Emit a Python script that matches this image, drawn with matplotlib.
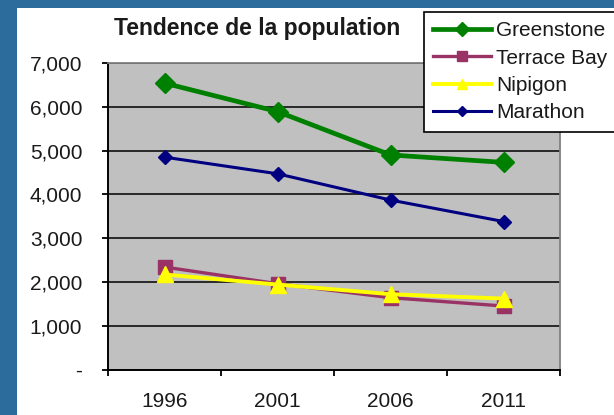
import matplotlib.pyplot as plt
from matplotlib.patches import Rectangle
from matplotlib.ticker import FuncFormatter, FixedLocator

plt.rcParams['font.family'] = ['Liberation Sans', 'DejaVu Sans']

years = ['1996', '2001', '2006', '2011']
greenstone = [6540, 5890, 4900, 4730]
terrace_bay = [2340, 1960, 1640, 1450]
nipigon = [2170, 1940, 1720, 1620]
marathon = [4850, 4470, 3870, 3380]

fig = plt.figure(figsize=(6.14, 4.15), dpi=100)
fig.patch.set_facecolor('#2b6c9c')
fig.patches.append(Rectangle((17 / 614, 0), 1, 1 - 8 / 415, transform=fig.transFigure,
                             facecolor='white', edgecolor='none', zorder=-5))

ax = fig.add_axes([108 / 614, 1 - 369.5 / 415, (560 - 108) / 614, (369.5 - 63) / 415])
ax.set_facecolor('#c0c0c0')

x = range(len(years))
ax.plot(x, greenstone, color='#008000', lw=3.4, marker='D', ms=10, label='Greenstone', zorder=3)
ax.plot(x, terrace_bay, color='#993366', lw=2.4, marker='s', ms=10, label='Terrace Bay', zorder=3)
ax.plot(x, nipigon, color='#ffff00', lw=2.8, marker='^', ms=11, label='Nipigon', zorder=4)
ax.plot(x, marathon, color='#000080', lw=2.2, marker='D', ms=7, label='Marathon', zorder=5)

ax.set_xlim(-0.5, 3.5)
ax.set_ylim(0, 7000)
ax.set_yticks(range(0, 7001, 1000))
ax.yaxis.set_major_formatter(FuncFormatter(lambda v, p: '-' if v == 0 else f'{v:,.0f}'))
ax.set_xticks(list(x))
ax.set_xticklabels(years)
ax.xaxis.set_minor_locator(FixedLocator([-0.5, 0.5, 1.5, 2.5, 3.5]))
ax.tick_params(axis='x', which='major', length=0, pad=16, labelsize=15, labelcolor='#1a1a1a')
ax.tick_params(axis='x', which='minor', length=4, width=1.3, direction='out', color='black')
ax.tick_params(axis='y', length=4.5, width=1.3, direction='out', pad=14, labelsize=15,
               labelcolor='#1a1a1a')
ax.grid(axis='y', color='black', lw=1.1, zorder=1)
ax.set_axisbelow(True)
for s in ['left', 'bottom']:
    ax.spines[s].set_color('black')
    ax.spines[s].set_linewidth(1.4)
for s in ['top', 'right']:
    ax.spines[s].set_color('#808080')
    ax.spines[s].set_linewidth(1.3)

fig.text(257 / 614, 1 - 29 / 415, 'Tendence de la population', ha='center', va='center',
         fontsize=16.5, fontweight='bold', color='#1a1a1a')

leg = fig.legend(loc='upper left', bbox_to_anchor=(424 / 614, 0, 230 / 614, 1 - 12 / 415),
                 mode='expand', fontsize=15,
                 frameon=True, fancybox=False, edgecolor='black', framealpha=1,
                 borderpad=0.45, labelspacing=0.4, handlelength=2.75, handletextpad=0.25,
                 borderaxespad=0, markerscale=0.7)
leg.get_frame().set_linewidth(1.2)
for t in leg.get_texts():
    t.set_color('#1a1a1a')

fig.savefig('out.png', dpi=100)
